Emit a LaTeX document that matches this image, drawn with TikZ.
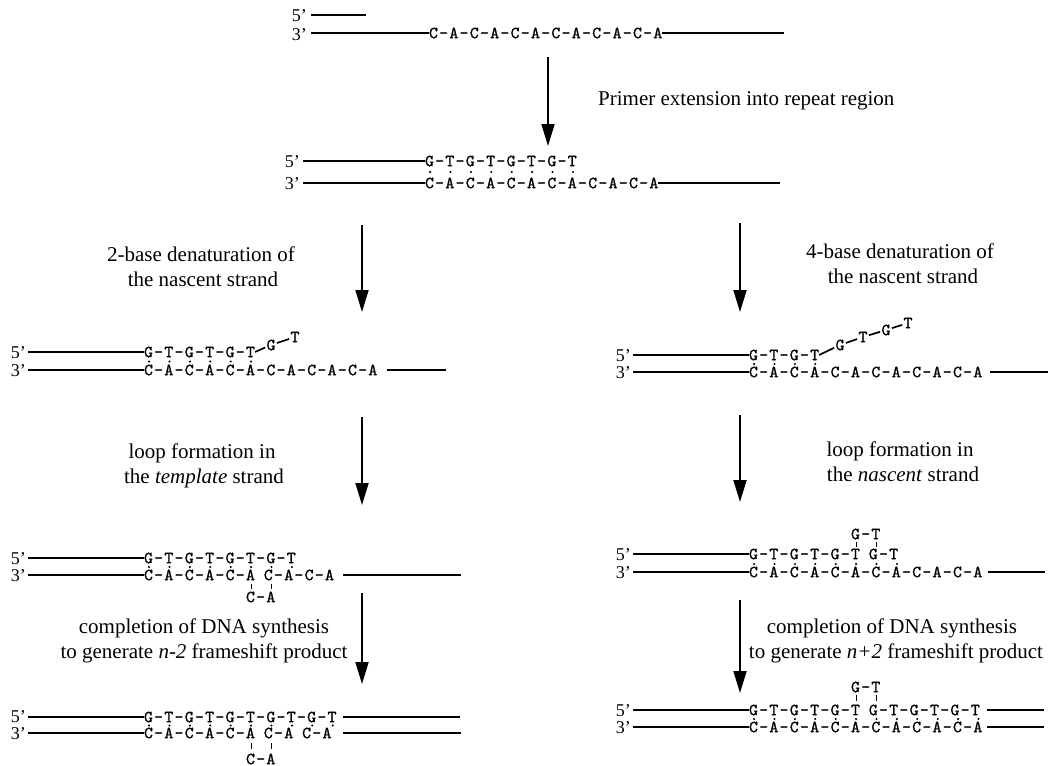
\documentclass[tikz,border=0pt]{standalone}
\usepackage{fontspec}
\setmainfont{Liberation Serif}
\newfontfamily\seqfam{lmmono10-regular}[Extension=.otf, LetterSpace=7.5, FakeBold=1.2]
\usetikzlibrary{arrows.meta}

\newcommand\seqfont{\seqfam\fontsize{17}{17}\selectfont}
\newcommand\labfont{\fontsize{18}{18}\selectfont}
\newcommand\notefont{\fontsize{21}{25}\selectfont}
\newcommand\gap{\phantom{-}}
\newcommand\cw{10.2}
% dots marking base pairs: x0, y, list of char indices
\newcommand\pairdots[3]{\foreach \k in {#3} {\fill ({#1+(\k+0.5)*\cw},#2) circle (1.15pt);}}
% ticks joining a looped-out pair: x0, y from, y to
\newcommand\loopticks[3]{%
  \draw[tickline] ({#1+10.5*\cw},#2) -- ({#1+10.5*\cw},#3);
  \draw[tickline] ({#1+12.5*\cw},#2) -- ({#1+12.5*\cw},#3);}

\begin{document}
\begin{tikzpicture}[x=1pt,y=-1pt,
  seq/.style={font=\seqfont, anchor=west, inner sep=0pt, outer sep=0pt, text height=10.4pt, text depth=0pt},
  free/.style={font=\seqfont, inner sep=1.2pt, text height=10.4pt, text depth=0pt},
  endlab/.style={font=\labfont, anchor=east, inner sep=0pt, text height=12pt, text depth=0pt},
  strand/.style={line width=2.5pt},
  link/.style={line width=1.7pt},
  tickline/.style={line width=0.8pt},
  flow/.style={line width=1.8pt, -{Triangle[width=13pt,length=22pt]}},
  note/.style={font=\notefont, anchor=base, inner sep=0pt},
]
\useasboundingbox (0,0) rectangle (1050,766);

% ---------- D1 ----------
\node[endlab] (d1five) at (307,15) {5’};
\node[endlab] (d1three) at (307,34) {3’};
\coordinate (d1a) at (311,15); \coordinate (d1b) at (366,15);
\draw[strand] (d1a) -- (d1b);
\node[seq] (d1seq) at (429,33) {C-A-C-A-C-A-C-A-C-A-C-A};
\coordinate (d1c) at (311,33); \coordinate (d1d) at (784,33);
\draw[strand] (d1c) -- (d1seq.west);
\draw[strand] (d1seq.east) -- (d1d);

% arrow 1
\coordinate (a1s) at (548,57); \coordinate (a1e) at (548,146);
\draw[flow] (a1s) -- (a1e);
\node[note, anchor=base west] (n1) at (598,105) {Primer extension into repeat region};

% ---------- D2 ----------
\node[endlab] (d2five) at (300,161) {5’};
\node[endlab] (d2three) at (300,183) {3’};
\node[seq] (d2top) at (425,161) {G-T-G-T-G-T-G-T};
\node[seq] (d2bot) at (425,183) {C-A-C-A-C-A-C-A-C-A-C-A};
\coordinate (d2a) at (303,161); \coordinate (d2b) at (303,183); \coordinate (d2c) at (780,183);
\draw[strand] (d2a) -- (d2top.west);
\draw[strand] (d2b) -- (d2bot.west);
\draw[strand] (d2bot.east) -- (d2c);
\pairdots{425}{172}{0,2,4,6,8,10,12,14}

% arrows 2
\coordinate (a2ls) at (362,225); \coordinate (a2le) at (362,312);
\draw[flow] (a2ls) -- (a2le);
\node[note] (n2la) at (201,261) {2-base denaturation of};
\node[note] (n2lb) at (203,286) {the nascent strand};
\coordinate (a2rs) at (740,223); \coordinate (a2re) at (740,312);
\draw[flow] (a2rs) -- (a2re);
\node[note] (n2ra) at (900,258) {4-base denaturation of};
\node[note] (n2rb) at (903,283) {the nascent strand};

% ---------- D3 left ----------
\node[endlab] (d3lfive) at (26,352) {5’};
\node[endlab] (d3lthree) at (26,370) {3’};
\node[seq] (d3ltop) at (144,352) {G-T-G-T-G-T};
\node[free] (d3lg) at (271,345) {G};
\node[free] (d3lt) at (295,337) {T};
\draw[link] (d3ltop.east) -- (d3lg);
\draw[link] (d3lg) -- (d3lt);
\node[seq] (d3lbot) at (144,370) {C-A-C-A-C-A-C-A-C-A-C-A};
\coordinate (d3la) at (28,352); \coordinate (d3lb) at (28,370);
\coordinate (d3lc) at (387,370); \coordinate (d3ld) at (446,370);
\draw[strand] (d3la) -- (d3ltop.west);
\draw[strand] (d3lb) -- (d3lbot.west);
\draw[strand] (d3lc) -- (d3ld);
\pairdots{144}{361.5}{0,2,4,6,8,10}

% ---------- D3 right ----------
\node[endlab] (d3rfive) at (631,355) {5’};
\node[endlab] (d3rthree) at (631,372) {3’};
\node[seq] (d3rtop) at (749,355) {G-T-G-T};
\node[free] (d3rg1) at (840,345) {G};
\node[free] (d3rt1) at (863,337) {T};
\node[free] (d3rg2) at (886,330) {G};
\node[free] (d3rt2) at (908,323) {T};
\draw[link] (d3rtop.east) -- (d3rg1);
\draw[link] (d3rg1) -- (d3rt1);
\draw[link] (d3rt1) -- (d3rg2);
\draw[link] (d3rg2) -- (d3rt2);
\node[seq] (d3rbot) at (749,372) {C-A-C-A-C-A-C-A-C-A-C-A};
\coordinate (d3ra) at (633,355); \coordinate (d3rb) at (633,372);
\coordinate (d3rc) at (990,372); \coordinate (d3rd) at (1048,372);
\draw[strand] (d3ra) -- (d3rtop.west);
\draw[strand] (d3rb) -- (d3rbot.west);
\draw[strand] (d3rc) -- (d3rd);
\pairdots{749}{364}{0,2,4,6}

% arrows 3
\coordinate (a3ls) at (362,417); \coordinate (a3le) at (362,505);
\draw[flow] (a3ls) -- (a3le);
\node[note] (n3la) at (202,458) {loop formation in};
\node[note] (n3lb) at (204,483) {the \textit{template} strand};
\coordinate (a3rs) at (740,415); \coordinate (a3re) at (740,502);
\draw[flow] (a3rs) -- (a3re);
\node[note] (n3ra) at (900,456) {loop formation in};
\node[note] (n3rb) at (903,481) {the \textit{nascent} strand};

% ---------- D4 left ----------
\node[endlab] (d4lfive) at (26,558) {5’};
\node[endlab] (d4lthree) at (26,575) {3’};
\node[seq] (d4ltop) at (144,558) {G-T-G-T-G-T-G-T};
\node[seq] (d4lbot) at (144,575) {C-A-C-A-C-A\gap C-A-C-A};
\node[seq] (d4lloop) at (246,597) {C-A};
\coordinate (d4la) at (28,558); \coordinate (d4lb) at (28,575);
\coordinate (d4lc) at (343,575); \coordinate (d4ld) at (461,575);
\draw[strand] (d4la) -- (d4ltop.west);
\draw[strand] (d4lb) -- (d4lbot.west);
\draw[strand] (d4lc) -- (d4ld);
\pairdots{144}{567}{0,2,4,6,8,10,12,14}
\loopticks{144}{583.5}{588.5}

% ---------- D4 right ----------
\node[endlab] (d4rfive) at (631,554) {5’};
\node[endlab] (d4rthree) at (631,572) {3’};
\node[seq] (d4rtop) at (749,554) {G-T-G-T-G-T\gap G-T};
\node[seq] (d4rbot) at (749,572) {C-A-C-A-C-A-C-A-C-A-C-A};
\node[seq] (d4rloop) at (851,534) {G-T};
\coordinate (d4ra) at (633,554); \coordinate (d4rb) at (633,572);
\coordinate (d4rc) at (988,572); \coordinate (d4rd) at (1045,572);
\draw[strand] (d4ra) -- (d4rtop.west);
\draw[strand] (d4rb) -- (d4rbot.west);
\draw[strand] (d4rc) -- (d4rd);
\pairdots{749}{564}{0,2,4,6,8,10,12,14}
\loopticks{749}{541.5}{546.5}

% arrows 4
\coordinate (a4ls) at (362,593); \coordinate (a4le) at (362,684);
\draw[flow] (a4ls) -- (a4le);
\node[note] (n4la) at (204,633) {completion of DNA synthesis};
\node[note] (n4lb) at (204,658) {to generate \textit{n-2} frameshift product};
\coordinate (a4rs) at (740,600); \coordinate (a4re) at (740,693);
\draw[flow] (a4rs) -- (a4re);
\node[note] (n4ra) at (892,633) {completion of DNA synthesis};
\node[note] (n4rb) at (896,658) {to generate \textit{n+2} frameshift product};

% ---------- D5 left ----------
\node[endlab] (d5lfive) at (26,716.5) {5’};
\node[endlab] (d5lthree) at (26,733.5) {3’};
\node[seq] (d5ltop) at (144,717) {G-T-G-T-G-T-G-T-G-T};
\node[seq] (d5lbot) at (144,733) {C-A-C-A-C-A\gap C-A\gap C-A};
\node[seq] (d5lloop) at (246,759) {C-A};
\coordinate (d5la) at (28,717); \coordinate (d5lb) at (28,733);
\coordinate (d5lc) at (343,717); \coordinate (d5ld) at (460,717);
\coordinate (d5le) at (343,733); \coordinate (d5lf) at (461,733);
\draw[strand] (d5la) -- (d5ltop.west);
\draw[strand] (d5lb) -- (d5lbot.west);
\draw[strand] (d5lc) -- (d5ld);
\draw[strand] (d5le) -- (d5lf);
\pairdots{144}{725.5}{0,2,4,6,8,10,12,14,16,18}
\loopticks{144}{743}{749}

% ---------- D5 right ----------
\node[endlab] (d5rfive) at (631,710) {5’};
\node[endlab] (d5rthree) at (631,727) {3’};
\node[seq] (d5rtop) at (749,710) {G-T-G-T-G-T\gap G-T-G-T-G-T};
\node[seq] (d5rbot) at (749,727) {C-A-C-A-C-A-C-A-C-A-C-A};
\node[seq] (d5rloop) at (851,687) {G-T};
\coordinate (d5ra) at (633,710); \coordinate (d5rb) at (633,727);
\coordinate (d5rc) at (987,710); \coordinate (d5rd) at (1044,710);
\coordinate (d5re) at (987,727); \coordinate (d5rf) at (1044,727);
\draw[strand] (d5ra) -- (d5rtop.west);
\draw[strand] (d5rb) -- (d5rbot.west);
\draw[strand] (d5rc) -- (d5rd);
\draw[strand] (d5re) -- (d5rf);
\pairdots{749}{719}{0,2,4,6,8,10,12,14,16,18,20,22}
\loopticks{749}{694.5}{700.5}
\end{tikzpicture}
\end{document}
